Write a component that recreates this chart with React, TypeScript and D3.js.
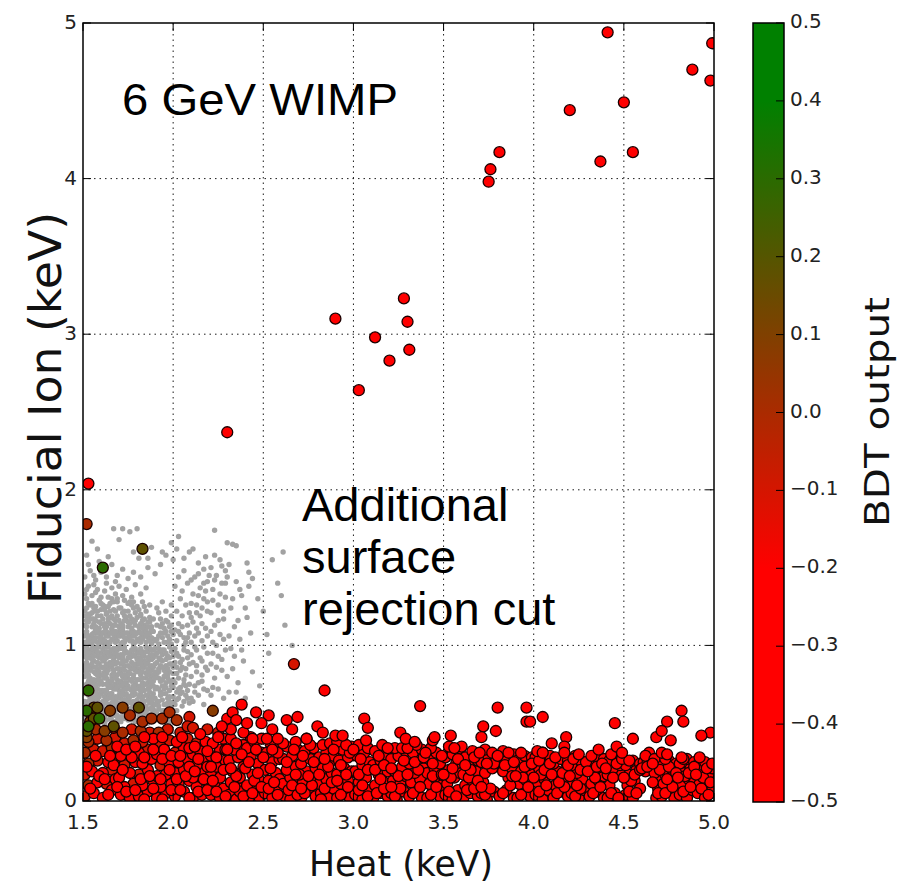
import React from "react";
import * as d3 from "d3";

// ---------- axes / ticks ----------
const heatDomain = [1.5, 5.0];
const ionDomain = [0, 5];
const xTickValues = [1.5, 2.0, 2.5, 3.0, 3.5, 4.0, 4.5, 5.0];
const yTickValues = [0, 1, 2, 3, 4, 5];
const cbarTickValues = [-0.5, -0.4, -0.3, -0.2, -0.1, 0.0, 0.1, 0.2, 0.3, 0.4, 0.5];
const cmapStops = [-0.5, -0.2, 0.4, 0.5];
const cmapColors = ["#ff0000", "#ff0000", "#008000", "#008000"];

// ---------- grey: events removed by the surface rejection cut (heat, ion pairs) ----------
const cutEvents = [
  // ion 0.5-0.6
  1.51,0.53, 1.53,0.58, 1.56,0.51, 1.58,0.56, 1.52,0.55, 1.55,0.59, 1.57,0.53, 1.59,0.58, 1.54,0.52, 1.51,0.59, 1.56,0.56, 1.58,0.50, 1.53,0.54, 1.60,0.54,
  1.61,0.57, 1.63,0.52, 1.65,0.58, 1.67,0.51, 1.69,0.55, 1.62,0.54, 1.64,0.59, 1.66,0.55, 1.68,0.58, 1.70,0.52, 1.62,0.50, 1.65,0.53, 1.67,0.57, 1.69,0.60,
  1.71,0.54, 1.73,0.59, 1.75,0.52, 1.77,0.56, 1.79,0.51, 1.72,0.57, 1.74,0.55, 1.76,0.59, 1.78,0.54, 1.80,0.58, 1.71,0.51, 1.73,0.53, 1.76,0.55, 1.79,0.57,
  1.81,0.55, 1.83,0.51, 1.85,0.57, 1.87,0.53, 1.89,0.59, 1.82,0.58, 1.84,0.54, 1.86,0.50, 1.88,0.56, 1.90,0.52, 1.81,0.60, 1.84,0.57, 1.87,0.55, 1.89,0.54,
  // ion 0.6-0.7
  1.52,0.62, 1.54,0.66, 1.56,0.61, 1.58,0.65, 1.51,0.69, 1.53,0.64, 1.55,0.68, 1.57,0.63, 1.59,0.67, 1.60,0.61, 1.52,0.70, 1.56,0.64, 1.58,0.69, 1.54,0.63,
  1.61,0.64, 1.63,0.68, 1.65,0.62, 1.67,0.66, 1.69,0.61, 1.62,0.67, 1.64,0.62, 1.66,0.69, 1.68,0.64, 1.70,0.68, 1.61,0.61, 1.63,0.65, 1.66,0.63, 1.69,0.66,
  1.71,0.66, 1.73,0.61, 1.75,0.67, 1.77,0.63, 1.79,0.69, 1.72,0.63, 1.74,0.69, 1.76,0.64, 1.78,0.61, 1.80,0.65, 1.71,0.70, 1.74,0.65, 1.77,0.68, 1.79,0.62,
  1.81,0.63, 1.83,0.67, 1.85,0.61, 1.87,0.66, 1.89,0.62, 1.82,0.69, 1.84,0.64, 1.86,0.68, 1.88,0.60, 1.90,0.66, 1.81,0.67, 1.83,0.62, 1.86,0.65, 1.89,0.69,
  // ion 0.7-0.8
  1.51,0.72, 1.53,0.77, 1.55,0.71, 1.57,0.75, 1.59,0.79, 1.52,0.75, 1.54,0.79, 1.56,0.74, 1.58,0.72, 1.60,0.77, 1.51,0.80, 1.55,0.77, 1.57,0.70, 1.53,0.73,
  1.61,0.75, 1.63,0.71, 1.65,0.76, 1.67,0.72, 1.69,0.78, 1.62,0.79, 1.64,0.73, 1.66,0.79, 1.68,0.75, 1.70,0.71, 1.61,0.71, 1.64,0.77, 1.67,0.74, 1.69,0.73,
  1.71,0.77, 1.73,0.73, 1.75,0.79, 1.77,0.71, 1.79,0.76, 1.72,0.71, 1.74,0.76, 1.76,0.72, 1.78,0.79, 1.80,0.74, 1.72,0.80, 1.75,0.74, 1.77,0.77, 1.79,0.72,
  1.81,0.72, 1.83,0.76, 1.85,0.79, 1.87,0.73, 1.89,0.77, 1.82,0.74, 1.84,0.71, 1.86,0.76, 1.88,0.80, 1.90,0.72, 1.81,0.78, 1.84,0.75, 1.87,0.70, 1.89,0.74,
  // ion 0.8-0.9
  1.51,0.84, 1.53,0.81, 1.55,0.86, 1.57,0.82, 1.59,0.88, 1.52,0.89, 1.54,0.84, 1.56,0.90, 1.58,0.85, 1.60,0.81, 1.51,0.87, 1.54,0.87, 1.57,0.86, 1.59,0.83,
  1.61,0.86, 1.63,0.82, 1.65,0.89, 1.67,0.84, 1.69,0.81, 1.62,0.83, 1.64,0.87, 1.66,0.81, 1.68,0.88, 1.70,0.85, 1.61,0.90, 1.63,0.85, 1.66,0.86, 1.69,0.89,
  1.71,0.82, 1.73,0.87, 1.75,0.83, 1.77,0.89, 1.79,0.84, 1.72,0.85, 1.74,0.90, 1.76,0.86, 1.78,0.81, 1.80,0.88, 1.71,0.88, 1.74,0.81, 1.77,0.85, 1.79,0.87,
  1.81,0.85, 1.83,0.89, 1.85,0.82, 1.87,0.86, 1.89,0.81, 1.82,0.81, 1.84,0.86, 1.86,0.89, 1.88,0.84, 1.90,0.88, 1.81,0.89, 1.83,0.83, 1.86,0.84, 1.89,0.86,
  // ion 0.9-1.0
  1.51,0.93, 1.53,0.97, 1.55,0.91, 1.57,0.96, 1.59,0.92, 1.52,0.99, 1.54,0.94, 1.56,0.98, 1.58,0.99, 1.60,0.95, 1.51,0.96, 1.55,0.95, 1.58,0.93, 1.53,0.92,
  1.61,0.97, 1.63,0.92, 1.65,0.96, 1.67,0.91, 1.69,0.97, 1.62,0.94, 1.64,0.99, 1.66,0.94, 1.68,0.93, 1.70,0.99, 1.61,0.91, 1.64,0.95, 1.67,0.98, 1.69,0.94,
  1.71,0.94, 1.73,0.99, 1.75,0.92, 1.77,0.97, 1.79,0.93, 1.72,0.91, 1.74,0.96, 1.76,0.95, 1.78,0.99, 1.80,0.96, 1.71,0.98, 1.73,0.95, 1.77,0.93, 1.79,0.98,
  1.81,0.92, 1.83,0.96, 1.85,0.99, 1.87,0.93, 1.89,0.97, 1.82,0.98, 1.84,0.93, 1.86,0.96, 1.88,0.91, 1.90,0.94, 1.81,0.95, 1.84,0.90, 1.87,0.98, 1.89,0.92,
  // ion 1.0-1.1
  1.51,1.02, 1.53,1.06, 1.55,1.01, 1.57,1.05, 1.59,1.09, 1.52,1.09, 1.54,1.03, 1.56,1.08, 1.58,1.02, 1.60,1.06, 1.51,1.06, 1.55,1.05, 1.57,1.10, 1.53,1.01,
  1.61,1.04, 1.63,1.09, 1.65,1.02, 1.67,1.07, 1.69,1.03, 1.62,1.01, 1.64,1.06, 1.66,1.10, 1.68,1.05, 1.70,1.09, 1.61,1.08, 1.64,1.02, 1.67,1.04, 1.69,1.07,
  1.71,1.06, 1.73,1.02, 1.75,1.08, 1.77,1.03, 1.79,1.07, 1.72,1.09, 1.74,1.04, 1.76,1.06, 1.78,1.01, 1.80,1.04, 1.71,1.01, 1.75,1.05, 1.77,1.09, 1.79,1.02,
  1.81,1.03, 1.83,1.07, 1.85,1.02, 1.87,1.08, 1.89,1.04, 1.82,1.05, 1.84,1.09, 1.86,1.05, 1.88,1.01, 1.81,1.09, 1.85,1.06, 1.87,1.03, 1.89,1.09,
  // ion 1.1-1.2
  1.51,1.13, 1.53,1.18, 1.55,1.12, 1.57,1.16, 1.59,1.11, 1.52,1.16, 1.54,1.20, 1.56,1.14, 1.58,1.19, 1.60,1.14, 1.51,1.19, 1.55,1.17,
  1.61,1.17, 1.63,1.12, 1.65,1.18, 1.67,1.13, 1.69,1.19, 1.62,1.14, 1.64,1.15, 1.66,1.11, 1.68,1.16, 1.70,1.12, 1.63,1.20, 1.67,1.17,
  1.71,1.14, 1.73,1.19, 1.75,1.12, 1.77,1.17, 1.79,1.13, 1.72,1.11, 1.74,1.16, 1.76,1.19, 1.78,1.15, 1.80,1.18, 1.75,1.15,
  1.81,1.12, 1.83,1.16, 1.85,1.11, 1.87,1.18, 1.82,1.19, 1.84,1.13, 1.86,1.15, 1.88,1.12, 1.89,1.17,
  // ion 1.2-1.3
  1.51,1.22, 1.53,1.27, 1.55,1.21, 1.57,1.25, 1.59,1.29, 1.52,1.30, 1.56,1.24, 1.58,1.22, 1.54,1.26, 1.60,1.23,
  1.61,1.26, 1.63,1.21, 1.65,1.27, 1.67,1.23, 1.69,1.28, 1.62,1.23, 1.66,1.30, 1.68,1.22, 1.64,1.25,
  1.71,1.24, 1.73,1.29, 1.75,1.22, 1.77,1.26, 1.79,1.21, 1.72,1.21, 1.76,1.28, 1.78,1.24,
  1.81,1.23, 1.83,1.28, 1.85,1.22, 1.87,1.26, 1.82,1.20,
  // ion 1.3-1.55
  1.51,1.33, 1.53,1.38, 1.55,1.32, 1.58,1.36, 1.60,1.31, 1.52,1.36, 1.56,1.39, 1.62,1.35, 1.64,1.31, 1.66,1.37, 1.68,1.33, 1.70,1.38, 1.63,1.40, 1.72,1.32,
  1.74,1.36, 1.77,1.31, 1.79,1.39, 1.82,1.33, 1.85,1.37, 1.57,1.34, 1.69,1.30,
  1.51,1.44, 1.54,1.48, 1.57,1.42, 1.60,1.47, 1.63,1.44, 1.66,1.52, 1.69,1.45, 1.72,1.49, 1.53,1.52, 1.59,1.54, 1.75,1.43, 1.78,1.47, 1.82,1.44, 1.86,1.50,
  1.90,1.46, 1.62,1.49, 1.68,1.41, 1.56,1.45,
  1.52,1.58, 1.58,1.62, 1.64,1.57, 1.70,1.68, 1.76,1.73, 1.81,1.56, 1.88,1.63, 1.94,1.60, 1.55,1.67, 1.67,1.75, 1.99,1.66, 2.03,1.70, 1.93,1.52, 2.00,1.55,
  // heat 1.9-2.0
  1.91,0.56, 1.93,0.52, 1.95,0.58, 1.97,0.54, 1.99,0.57, 1.92,0.59, 1.96,0.51, 1.98,0.60,
  1.91,0.64, 1.93,0.68, 1.95,0.62, 1.97,0.66, 1.99,0.61, 1.92,0.61, 1.94,0.65, 1.96,0.69, 1.98,0.64, 2.00,0.67, 1.93,0.70, 1.97,0.63,
  1.91,0.73, 1.93,0.77, 1.95,0.72, 1.97,0.79, 1.99,0.74, 1.92,0.79, 1.94,0.74, 1.96,0.76, 1.98,0.71, 2.00,0.78, 1.95,0.80, 1.99,0.77,
  1.91,0.82, 1.93,0.87, 1.95,0.84, 1.97,0.81, 1.99,0.88, 1.92,0.85, 1.94,0.90, 1.96,0.87, 1.98,0.83, 2.00,0.86, 1.91,0.89, 1.97,0.85,
  1.91,0.95, 1.93,0.91, 1.95,0.97, 1.97,0.93, 1.99,0.96, 1.92,0.98, 1.94,0.94, 1.96,0.91, 1.98,0.99, 2.00,0.93, 1.93,0.96,
  1.91,1.04, 1.93,1.08, 1.95,1.02, 1.97,1.06, 1.99,1.01, 1.92,1.01, 1.94,1.05, 1.96,1.09, 1.98,1.04, 2.00,1.07,
  1.91,1.13, 1.93,1.17, 1.95,1.11, 1.97,1.15, 1.99,1.19, 1.94,1.14, 1.98,1.12,
  1.91,1.24, 1.94,1.28, 1.96,1.22, 1.99,1.26, 1.92,1.21,
  // heat 2.0-2.45
  2.01,0.62, 2.03,0.66, 2.05,0.61, 2.07,0.68, 2.02,0.70, 2.06,0.64, 2.09,0.63, 2.04,0.73, 2.01,0.76, 2.03,0.79, 2.06,0.75, 2.08,0.71, 2.02,0.82, 2.05,0.86,
  2.07,0.81, 2.09,0.88, 2.01,0.89, 2.04,0.84, 2.03,0.93, 2.06,0.97, 2.08,0.92, 2.01,0.98, 2.05,0.91, 2.02,1.03, 2.04,1.07, 2.07,1.02, 2.09,1.08, 2.01,1.10,
  2.06,1.05, 2.03,1.14, 2.05,1.19, 2.08,1.13, 2.02,1.22, 2.07,1.26, 2.04,1.30, 2.09,1.21, 2.05,1.35, 2.01,1.38, 2.08,1.40, 2.03,1.44, 2.06,1.48,
  2.11,0.64, 2.14,0.68, 2.17,0.62, 2.12,0.74, 2.16,0.77, 2.19,0.71, 2.13,0.83, 2.18,0.86, 2.11,0.89, 2.15,0.92, 2.19,0.95, 2.12,0.99, 2.16,1.03, 2.14,1.08,
  2.18,1.11, 2.11,1.15, 2.15,1.19, 2.19,1.22, 2.13,1.26, 2.17,1.30, 2.11,1.33, 2.15,1.37, 2.19,1.41, 2.12,1.44, 2.17,1.49, 2.14,1.53, 2.18,1.57, 2.16,0.81,
  2.12,1.06, 2.18,1.35,
  2.21,0.68, 2.25,0.72, 2.28,0.66, 2.23,0.79, 2.27,0.84, 2.21,0.88, 2.25,0.93, 2.29,0.97, 2.22,1.02, 2.26,1.07, 2.23,1.13, 2.28,1.17, 2.21,1.21, 2.25,1.26,
  2.29,1.31, 2.22,1.36, 2.27,1.40, 2.24,1.45, 2.21,1.50, 2.26,1.55, 2.29,1.48, 2.23,1.58,
  2.31,0.70, 2.36,0.76, 2.33,0.85, 2.39,0.90, 2.32,0.98, 2.37,1.04, 2.34,1.12, 2.41,1.18, 2.32,1.24, 2.38,1.32, 2.35,1.41, 2.42,1.47, 2.31,1.52, 2.44,0.83,
  2.40,0.66, 2.43,1.08,
  2.02,0.58, 2.05,0.70, 2.07,0.74, 2.10,0.66, 2.12,0.70, 2.14,0.76, 2.17,0.72, 2.10,0.80, 2.13,0.87, 2.16,0.90, 2.19,0.84, 2.10,0.94, 2.13,0.97, 2.17,0.99,
  2.10,1.02, 2.13,1.11, 2.16,1.14, 2.19,1.06, 2.10,1.18, 2.13,1.21, 2.16,1.24, 2.19,1.28, 2.10,1.27, 2.14,1.32, 2.17,1.40, 2.10,1.42, 2.14,1.46, 2.20,1.45,
  2.22,0.73, 2.24,0.86, 2.27,0.91, 2.22,0.95, 2.24,1.00, 2.28,1.04, 2.21,1.09, 2.25,1.16, 2.28,1.22, 2.22,1.29, 2.26,1.33, 2.29,1.40, 2.23,1.42, 2.27,1.51,
  2.30,0.80, 2.34,0.93, 2.31,1.06, 2.36,1.16, 2.33,1.30, 2.37,1.36, 2.30,1.44, 2.35,0.70, 2.38,0.97, 2.40,1.24, 2.42,1.38, 2.06,1.56, 2.09,1.60, 2.11,1.62,
  2.02,1.62, 1.96,1.58, 1.86,1.56, 1.78,1.60,
  // outer halo
  2.30,1.66, 2.33,1.65, 2.35,1.64, 2.23,1.74, 2.41,1.53, 2.44,1.43, 2.58,1.40, 2.60,1.32, 2.61,1.60, 2.62,1.13, 2.66,1.00, 2.50,1.22, 2.53,0.95, 2.48,0.74,
  2.55,1.55, 1.72,1.75, 1.80,1.75, 2.47,1.30, 2.52,1.07,
  // second layer of the saturated core
  1.52,0.51, 1.54,0.57, 1.55,0.54, 1.57,0.59, 1.59,0.52, 1.60,0.57, 1.52,0.58, 1.57,0.51,
  1.62,0.52, 1.64,0.56, 1.66,0.52, 1.68,0.55, 1.70,0.59, 1.61,0.59, 1.66,0.60, 1.69,0.52,
  1.72,0.53, 1.74,0.58, 1.75,0.55, 1.77,0.52, 1.78,0.57, 1.80,0.52, 1.71,0.58, 1.77,0.60,
  1.82,0.52, 1.83,0.57, 1.85,0.54, 1.86,0.59, 1.88,0.52, 1.90,0.57, 1.82,0.55, 1.88,0.59,
  1.51,0.64, 1.53,0.61, 1.55,0.65, 1.57,0.67, 1.59,0.63, 1.60,0.69, 1.53,0.68, 1.57,0.60,
  1.62,0.63, 1.64,0.66, 1.65,0.69, 1.67,0.62, 1.68,0.67, 1.70,0.63, 1.62,0.70, 1.66,0.66,
  1.72,0.65, 1.73,0.68, 1.75,0.63, 1.76,0.67, 1.78,0.64, 1.80,0.61, 1.72,0.69, 1.78,0.68,
  1.82,0.61, 1.83,0.65, 1.85,0.68, 1.87,0.63, 1.88,0.67, 1.90,0.62, 1.84,0.61, 1.88,0.64,
  1.52,0.72, 1.54,0.76, 1.56,0.78, 1.57,0.73, 1.59,0.75, 1.60,0.71, 1.53,0.80, 1.58,0.78,
  1.62,0.71, 1.63,0.75, 1.65,0.73, 1.66,0.77, 1.68,0.72, 1.70,0.76, 1.63,0.79, 1.68,0.79,
  1.71,0.74, 1.73,0.76, 1.74,0.72, 1.76,0.78, 1.78,0.74, 1.80,0.78, 1.73,0.79, 1.78,0.71,
  1.82,0.71, 1.83,0.73, 1.85,0.75, 1.86,0.72, 1.88,0.76, 1.90,0.79, 1.83,0.79, 1.87,0.78,
  1.52,0.82, 1.53,0.86, 1.55,0.88, 1.56,0.83, 1.58,0.81, 1.60,0.86, 1.52,0.85, 1.58,0.89,
  1.62,0.81, 1.63,0.88, 1.64,0.84, 1.66,0.88, 1.67,0.82, 1.69,0.85, 1.62,0.86, 1.70,0.82,
  1.72,0.81, 1.73,0.84, 1.75,0.87, 1.76,0.82, 1.78,0.85, 1.80,0.83, 1.72,0.89, 1.78,0.88,
  1.82,0.83, 1.83,0.86, 1.85,0.88, 1.86,0.81, 1.88,0.87, 1.90,0.83, 1.82,0.88, 1.87,0.83,
  1.52,0.92, 1.53,0.95, 1.55,0.98, 1.56,0.93, 1.58,0.96, 1.60,0.92, 1.51,0.99, 1.59,0.99,
  1.62,0.91, 1.63,0.96, 1.65,0.93, 1.66,0.97, 1.68,0.95, 1.70,0.92, 1.62,0.99, 1.68,0.98,
  1.72,0.93, 1.73,0.97, 1.75,0.95, 1.76,0.92, 1.78,0.94, 1.80,0.91, 1.72,0.99, 1.78,0.97,
  1.82,0.91, 1.83,0.94, 1.85,0.96, 1.86,0.92, 1.88,0.97, 1.90,0.98, 1.82,0.96, 1.88,0.94,
  1.52,1.02, 1.53,1.04, 1.55,1.07, 1.56,1.03, 1.58,1.08, 1.60,1.02, 1.52,1.07, 1.59,1.05,
  1.62,1.03, 1.63,1.06, 1.65,1.08, 1.66,1.04, 1.68,1.02, 1.70,1.06, 1.62,1.09, 1.68,1.09,
  1.72,1.02, 1.73,1.05, 1.74,1.08, 1.76,1.03, 1.78,1.06, 1.80,1.08, 1.72,1.07, 1.78,1.09,
  1.82,1.02, 1.83,1.04, 1.85,1.09, 1.86,1.07, 1.88,1.05, 1.90,1.03, 1.82,1.08, 1.88,1.10,
  1.52,1.12, 1.53,1.15, 1.56,1.17, 1.57,1.12, 1.59,1.15, 1.60,1.19, 1.53,1.20,
  1.62,1.12, 1.64,1.17, 1.65,1.14, 1.66,1.19, 1.68,1.13, 1.70,1.16,
  1.72,1.13, 1.74,1.18, 1.76,1.14, 1.77,1.11, 1.79,1.16, 1.73,1.16,
  1.82,1.14, 1.84,1.17, 1.86,1.12, 1.87,1.15, 1.83,1.11,
  1.52,1.24, 1.55,1.27, 1.57,1.22, 1.60,1.27, 1.62,1.25, 1.65,1.22, 1.67,1.28, 1.70,1.24, 1.73,1.22, 1.75,1.27, 1.78,1.28, 1.80,1.25, 1.84,1.25,
  1.92,0.55, 1.94,0.58, 1.96,0.54, 1.98,0.51, 2.00,0.58, 1.92,0.64, 1.94,0.69, 1.96,0.62, 1.98,0.67, 2.00,0.63, 1.92,0.72, 1.94,0.78, 1.96,0.73,
  1.98,0.77, 2.00,0.73, 1.92,0.83, 1.94,0.86, 1.96,0.82, 1.98,0.88, 2.00,0.82, 1.92,0.92, 1.94,0.97, 1.96,0.95, 1.98,0.92, 2.00,0.97, 1.92,1.06,
  1.95,1.08, 1.97,1.02, 1.99,1.09, 1.93,1.12, 1.96,1.16, 1.99,1.13,
  2.02,0.65, 2.04,0.69, 2.08,0.66, 2.03,0.72, 2.06,0.78, 2.09,0.75, 2.02,0.86, 2.07,0.85, 2.04,0.89, 2.08,0.96, 2.02,0.95, 2.06,1.00, 2.03,1.09,
  2.08,1.05, 2.05,1.12,
];

// ---------- events passing the cut, grouped by BDT output ----------
const bdtRedBand = -0.4;
const redBandEvents = [
  1.56,0.05, 1.58,0.12, 1.55,0.19,
  1.61,0.02, 1.66,0.07, 1.68,0.14, 1.61,0.18, 1.64,0.25,
  1.71,0.04, 1.76,0.02, 1.73,0.09, 1.70,0.15, 1.76,0.18, 1.79,0.25, 1.71,0.29,
  1.81,0.03, 1.86,0.06, 1.83,0.10, 1.89,0.13, 1.86,0.20, 1.83,0.24, 1.88,0.27, 1.81,0.31, 1.89,0.40,
  1.91,0.02, 1.96,0.05, 1.93,0.09, 1.99,0.11, 1.91,0.16, 1.96,0.17, 1.98,0.24, 1.91,0.30, 1.95,0.33,
  2.01,0.03, 2.06,0.06, 2.03,0.11, 2.09,0.13, 2.01,0.18, 2.06,0.20, 2.03,0.25, 2.08,0.27, 2.06,0.34, 2.02,0.38,
  2.11,0.02, 2.16,0.04, 2.13,0.09, 2.19,0.12, 2.11,0.15, 2.16,0.19, 2.13,0.23, 2.18,0.26, 2.11,0.30, 2.15,0.32, 2.18,0.38, 2.15,0.43,
  2.21,0.04, 2.26,0.02, 2.23,0.10, 2.28,0.08, 2.21,0.17, 2.26,0.15, 2.24,0.22, 2.29,0.26, 2.21,0.29, 2.26,0.33, 2.22,0.37, 2.28,0.40,
  2.31,0.04, 2.35,0.01, 2.38,0.08, 2.32,0.12, 2.37,0.15, 2.33,0.19, 2.39,0.22, 2.31,0.26, 2.36,0.28, 2.34,0.33, 2.39,0.36, 2.32,0.40, 2.37,0.06,
  2.42,0.02, 2.46,0.07, 2.41,0.10, 2.48,0.13, 2.44,0.17, 2.40,0.21, 2.47,0.24, 2.43,0.29, 2.49,0.31, 2.41,0.34, 2.45,0.38, 2.48,0.02, 2.45,0.13,
  2.51,0.05, 2.55,0.02, 2.58,0.09, 2.53,0.13, 2.57,0.18, 2.51,0.20, 2.55,0.25, 2.59,0.27, 2.52,0.31, 2.57,0.34, 2.54,0.37, 2.59,0.14, 2.50,0.28,
  2.62,0.03, 2.67,0.06, 2.61,0.11, 2.65,0.15, 2.69,0.12, 2.63,0.20, 2.68,0.22, 2.61,0.27, 2.66,0.29, 2.63,0.35, 2.69,0.33, 2.65,0.01, 2.68,0.38,
  2.71,0.02, 2.75,0.07, 2.79,0.03, 2.72,0.12, 2.77,0.14, 2.74,0.19, 2.79,0.21, 2.71,0.24, 2.76,0.27, 2.73,0.32, 2.78,0.34, 2.70,0.17, 2.74,0.40,
  2.82,0.05, 2.86,0.02, 2.89,0.08, 2.81,0.11, 2.85,0.14, 2.88,0.18, 2.83,0.21, 2.87,0.25, 2.81,0.28, 2.85,0.31, 2.89,0.29, 2.83,0.36, 2.87,0.37,
  2.91,0.02, 2.95,0.06, 2.98,0.02, 2.93,0.11, 2.97,0.13, 2.91,0.17, 2.95,0.21, 2.99,0.19, 2.92,0.26, 2.97,0.28, 2.94,0.33, 2.99,0.35, 2.91,0.38,
  3.01,0.04, 3.05,0.01, 3.08,0.07, 3.03,0.12, 3.07,0.15, 3.01,0.19, 3.05,0.23, 3.09,0.25, 3.02,0.29, 3.06,0.31, 3.03,0.36, 3.08,0.34,
  3.11,0.02, 3.15,0.05, 3.19,0.03, 3.12,0.10, 3.17,0.12, 3.14,0.17, 3.19,0.19, 3.11,0.23, 3.15,0.26, 3.18,0.30, 3.12,0.32, 3.16,0.36,
  3.21,0.05, 3.24,0.01, 3.28,0.06, 3.22,0.13, 3.26,0.11, 3.29,0.16, 3.23,0.19, 3.27,0.22, 3.21,0.27, 3.25,0.29, 3.29,0.32, 3.23,0.34,
  3.31,0.03, 3.35,0.07, 3.38,0.02, 3.32,0.12, 3.37,0.14, 3.34,0.18, 3.39,0.21, 3.31,0.24, 3.36,0.27, 3.33,0.31, 3.38,0.33, 3.35,0.36,
  3.41,0.02, 3.44,0.06, 3.48,0.03, 3.42,0.11, 3.46,0.14, 3.49,0.10, 3.41,0.18, 3.45,0.21, 3.48,0.24, 3.42,0.27, 3.46,0.31, 3.43,0.34,
  3.51,0.04, 3.55,0.01, 3.58,0.07, 3.52,0.11, 3.56,0.15, 3.59,0.18, 3.53,0.20, 3.57,0.24, 3.51,0.28, 3.55,0.30, 3.59,0.31, 3.53,0.35,
  3.61,0.02, 3.65,0.05, 3.69,0.03, 3.62,0.10, 3.66,0.13, 3.61,0.17, 3.68,0.19, 3.64,0.23, 3.69,0.26, 3.62,0.28, 3.66,0.32, 3.60,0.35,
  3.71,0.05, 3.74,0.01, 3.78,0.06, 3.72,0.12, 3.73,0.18, 3.77,0.21, 3.71,0.25, 3.75,0.28, 3.79,0.27, 3.73,0.33,
  3.81,0.03, 3.85,0.07, 3.89,0.02, 3.86,0.15, 3.83,0.19, 3.88,0.21, 3.81,0.25, 3.85,0.27, 3.89,0.30, 3.83,0.32,
  3.91,0.02, 3.94,0.06, 3.98,0.03, 3.92,0.11, 3.96,0.13, 3.99,0.17, 3.93,0.19, 3.97,0.23, 3.91,0.26, 3.95,0.29, 3.99,0.28,
  4.01,0.04, 4.05,0.01, 4.08,0.07, 4.02,0.12, 4.06,0.14, 4.09,0.18, 4.03,0.21, 4.07,0.24, 4.01,0.28, 4.05,0.31, 4.09,0.29,
  4.11,0.02, 4.15,0.06, 4.19,0.03, 4.12,0.10, 4.16,0.14, 4.13,0.19, 4.18,0.21, 4.11,0.24, 4.15,0.27, 4.19,0.26,
  4.21,0.05, 4.25,0.02, 4.28,0.07, 4.22,0.12, 4.27,0.14, 4.24,0.18, 4.29,0.20, 4.21,0.23, 4.26,0.26, 4.23,0.29,
  4.31,0.03, 4.35,0.06, 4.39,0.02, 4.32,0.11, 4.36,0.13, 4.39,0.16, 4.33,0.19, 4.37,0.22, 4.31,0.25, 4.35,0.28, 4.39,0.27,
  4.41,0.02, 4.45,0.05, 4.42,0.10, 4.48,0.19, 4.41,0.17, 4.44,0.21, 4.48,0.23, 4.42,0.26, 4.46,0.28, 4.49,0.02,
  4.51,0.04, 4.55,0.02, 4.52,0.10, 4.56,0.13, 4.59,0.08, 4.53,0.17, 4.57,0.20, 4.51,0.23, 4.55,0.26, 4.59,0.24,
  4.62,0.19, 4.66,0.22, 4.68,0.15, 4.61,0.25, 4.65,0.28, 4.69,0.08, 4.68,0.02, 4.64,0.31,
  4.71,0.03, 4.75,0.06, 4.78,0.02, 4.72,0.11, 4.76,0.13, 4.79,0.09, 4.73,0.17, 4.77,0.20, 4.71,0.24, 4.75,0.26, 4.79,0.24,
  4.81,0.04, 4.85,0.02, 4.88,0.07, 4.82,0.11, 4.86,0.14, 4.89,0.12, 4.83,0.18, 4.87,0.21, 4.81,0.24, 4.85,0.27, 4.89,0.25,
  4.91,0.05, 4.95,0.02, 4.92,0.11, 4.96,0.14, 4.99,0.07, 4.93,0.18, 4.97,0.17, 4.91,0.23, 4.95,0.25, 4.99,0.21,
  // second layer of the pile-up
  1.54,0.08, 1.59,0.16, 1.52,0.22, 1.57,0.29,
  1.64,0.04, 1.69,0.09, 1.62,0.14, 1.67,0.23, 1.65,0.29, 1.69,0.35,
  1.74,0.06, 1.79,0.07, 1.72,0.20, 1.77,0.28, 1.74,0.33, 1.79,0.35,
  1.84,0.01, 1.89,0.08, 1.82,0.14, 1.87,0.16, 1.84,0.28, 1.89,0.33, 1.84,0.41,
  1.94,0.01, 1.99,0.07, 1.93,0.14, 1.98,0.20, 1.94,0.27, 1.99,0.29, 1.94,0.41,
  2.04,0.07, 2.09,0.02, 2.02,0.14, 2.07,0.16, 2.04,0.29, 2.09,0.34, 2.05,0.41, 2.09,0.22,
  2.14,0.06, 2.19,0.07, 2.12,0.19, 2.17,0.14, 2.14,0.27, 2.19,0.32, 2.12,0.35, 2.19,0.22,
  2.24,0.06, 2.29,0.03, 2.22,0.13, 2.28,0.20, 2.24,0.28, 2.29,0.33, 2.25,0.41, 2.21,0.22,
  2.34,0.09, 2.39,0.03, 2.35,0.16, 2.32,0.21, 2.38,0.30, 2.35,0.37, 2.30,0.33,
  2.44,0.05, 2.49,0.09, 2.47,0.18, 2.42,0.25, 2.46,0.33, 2.49,0.40, 2.43,0.41,
  2.53,0.08, 2.58,0.04, 2.56,0.12, 2.54,0.21, 2.58,0.31, 2.55,0.33, 2.52,0.40,
  2.64,0.07, 2.69,0.04, 2.68,0.17, 2.63,0.25, 2.67,0.33, 2.61,0.37, 2.66,0.10,
  2.73,0.05, 2.77,0.10, 2.75,0.16, 2.72,0.29, 2.78,0.25, 2.76,0.36, 2.71,0.08,
  2.84,0.08, 2.88,0.12, 2.81,0.17, 2.86,0.22, 2.84,0.27, 2.89,0.33, 2.82,0.01,
  2.93,0.04, 2.97,0.09, 2.91,0.13, 2.96,0.17, 2.93,0.23, 2.98,0.31, 2.96,0.36,
  3.03,0.07, 3.08,0.03, 3.05,0.10, 3.03,0.17, 3.08,0.20, 3.04,0.27, 3.00,0.33,
  3.13,0.05, 3.17,0.08, 3.15,0.14, 3.12,0.20, 3.17,0.23, 3.14,0.29, 3.19,0.34,
  3.23,0.03, 3.26,0.08, 3.21,0.09, 3.25,0.16, 3.21,0.21, 3.28,0.26, 3.27,0.34,
  3.33,0.05, 3.37,0.09, 3.30,0.17, 3.36,0.20, 3.34,0.25, 3.39,0.28, 3.30,0.34,
  3.43,0.04, 3.46,0.09, 3.44,0.16, 3.49,0.17, 3.44,0.24, 3.49,0.29, 3.40,0.31,
  3.53,0.06, 3.57,0.03, 3.54,0.15, 3.50,0.17, 3.55,0.21, 3.58,0.27, 3.56,0.34,
  3.63,0.07, 3.67,0.08, 3.64,0.15, 3.69,0.13, 3.65,0.20, 3.62,0.23, 3.67,0.28,
  3.73,0.04, 3.76,0.08, 3.71,0.09, 3.78,0.24, 3.74,0.24, 3.70,0.31, 3.77,0.31,
  3.83,0.05, 3.87,0.10, 3.84,0.23, 3.89,0.25, 3.86,0.31, 3.80,0.29, 3.88,0.16,
  3.93,0.04, 3.97,0.09, 3.94,0.15, 3.90,0.16, 3.95,0.22, 3.99,0.24, 3.93,0.31,
  4.03,0.06, 4.07,0.10, 4.04,0.17, 4.00,0.15, 4.06,0.20, 4.09,0.24, 4.03,0.26,
  4.13,0.05, 4.17,0.09, 4.14,0.12, 4.10,0.17, 4.16,0.18, 4.19,0.23, 4.12,0.28,
  4.23,0.03, 4.26,0.08, 4.24,0.10, 4.20,0.16, 4.26,0.20, 4.29,0.25, 4.22,0.27,
  4.33,0.05, 4.37,0.09, 4.34,0.15, 4.30,0.19, 4.35,0.22, 4.38,0.24, 4.32,0.29,
  4.43,0.05, 4.47,0.02, 4.44,0.15, 4.40,0.21, 4.46,0.24, 4.49,0.27, 4.43,0.30,
  4.53,0.06, 4.57,0.05, 4.54,0.13, 4.50,0.15, 4.56,0.17, 4.59,0.20, 4.53,0.26,
  4.63,0.24, 4.67,0.18, 4.60,0.21, 4.66,0.12, 4.69,0.05, 4.62,0.29, 4.67,0.27,
  4.73,0.05, 4.77,0.09, 4.74,0.14, 4.70,0.20, 4.75,0.22, 4.79,0.18, 4.73,0.27,
  4.83,0.06, 4.87,0.09, 4.84,0.16, 4.80,0.15, 4.86,0.18, 4.89,0.22, 4.83,0.27,
  4.93,0.08, 4.97,0.04, 4.94,0.15, 4.90,0.17, 4.96,0.21, 4.99,0.24, 4.92,0.28, 4.98,0.12,
];

const bdtRedSparse = -0.35;
const redSparseEvents = [
  4.41,4.94, 4.99,4.87, 4.88,4.70, 4.98,4.63, 4.20,4.44, 4.50,4.49, 4.37,4.11, 4.55,4.17, 3.81,4.17, 3.76,4.06, 3.75,3.98,
  3.28,3.23, 2.90,3.10, 3.30,3.08, 3.12,2.98, 3.31,2.90, 3.20,2.83, 3.03,2.64, 2.30,2.37, 1.53,2.04,
  2.84,0.71, 3.37,0.61, 3.80,0.60, 3.96,0.60, 3.96,0.51, 3.98,0.51, 4.05,0.54, 4.45,0.50, 4.74,0.51, 4.82,0.58, 4.83,0.51, 4.98,0.44, 4.93,0.42,
  2.38,0.62, 2.30,0.53, 2.33,0.57, 2.35,0.52, 2.46,0.57, 2.53,0.55, 2.49,0.50, 2.63,0.52, 2.66,0.46, 2.39,0.44, 2.44,0.40, 2.55,0.46, 2.58,0.40,
  2.69,0.54, 2.80,0.48, 2.83,0.44, 3.06,0.53, 3.08,0.47, 3.07,0.39, 3.26,0.44, 3.29,0.40, 3.34,0.38, 3.44,0.39, 3.45,0.41, 3.54,0.42, 3.72,0.48,
  3.79,0.45, 3.71,0.41, 2.74,0.40, 2.90,0.42, 2.94,0.42, 4.18,0.41, 4.10,0.37, 4.17,0.35, 4.17,0.31, 4.02,0.32, 4.05,0.31, 4.25,0.30, 4.36,0.33,
  4.46,0.35, 4.49,0.31, 4.55,0.40, 4.68,0.41, 4.71,0.45, 4.76,0.39, 4.63,0.22, 4.66,0.24, 4.71,0.31, 4.74,0.30, 4.82,0.28, 2.32,0.46, 2.27,0.48, 2.41,0.50,
];

const bdtDarkRed = -0.1;
const darkRedEvents = [
  1.51,0.03, 1.51,0.17, 1.58,0.26, 1.56,0.33, 1.58,0.40,
  1.63,0.11, 1.66,0.20, 1.68,0.27, 1.61,0.32, 1.68,0.41, 1.67,0.47,
  1.78,0.11, 1.73,0.23, 1.76,0.32, 1.73,0.37, 1.77,0.46,
  1.81,0.17, 1.86,0.33, 1.83,0.38, 1.87,0.44,
  1.93,0.23, 1.93,0.37, 1.98,0.39, 1.97,0.46,
  2.01,0.31, 2.08,0.40, 2.04,0.44, 2.13,0.37, 2.25,0.44,
  2.09,0.54, 2.08,0.48, 2.67,0.88, 2.11,0.47, 2.19,0.46,
];

const bdtBrown = 0.0;
const brownEvents = [
  1.53,0.10, 1.53,0.24, 1.51,0.31, 1.53,0.38, 1.57,0.46, 1.66,0.34, 1.63,0.39, 1.78,0.39, 1.72,0.44, 1.82,0.45, 1.92,0.44,
  1.83,0.51, 1.76,0.55, 1.88,0.53, 1.94,0.53, 1.98,0.57, 2.02,0.52, 1.52,1.78,
];

const bdtAmber = 0.08;
const amberEvents = [1.62,0.45, 1.65,0.58, 1.72,0.60, 1.54,0.51, 2.22,0.58, 1.52,0.41];

const bdtOlive = 0.18;
const oliveEvents = [1.52,0.45, 1.56,0.60, 1.58,0.60, 1.81,0.60, 1.56,0.53, 1.67,0.48, 1.83,1.62];

const bdtGreen = 0.3;
const greenEvents = [1.61,1.50, 1.53,0.71, 1.52,0.58, 1.59,0.53, 1.53,0.48];

// ---------- helpers ----------
const toPairs = (flat: number[]) =>
  d3.range(0, flat.length - 1, 2).map((i) => [flat[i], flat[i + 1]] as [number, number]);

const layers = [
  { bdt: bdtDarkRed, pts: darkRedEvents },
  { bdt: bdtBrown, pts: brownEvents },
  { bdt: bdtRedBand, pts: redBandEvents },
  { bdt: bdtRedSparse, pts: redSparseEvents },
  { bdt: bdtAmber, pts: amberEvents },
  { bdt: bdtOlive, pts: oliveEvents },
  { bdt: bdtGreen, pts: greenEvents },
];

export default function App() {
  const W = 912;
  const H = 890;
  const plot = { left: 83, right: 714, top: 23, bottom: 801 };
  const x = d3.scaleLinear().domain(heatDomain).range([plot.left, plot.right]);
  const y = d3.scaleLinear().domain(ionDomain).range([plot.bottom, plot.top]);
  const cmap = d3
    .scaleLinear<string>()
    .domain(cmapStops)
    .range(cmapColors)
    .interpolate(d3.interpolateRgb)
    .clamp(true);
  const cb = { left: 753, right: 784, top: 23, bottom: 802 };
  const cy = d3.scaleLinear().domain([-0.5, 0.5]).range([cb.bottom, cb.top]);
  const gradOffset = d3.scaleLinear().domain([-0.5, 0.5]).range([0, 100]);
  const fmtX = d3.format(".1f");
  const fmtCb = d3.format(".1f");
  const grey = toPairs(cutEvents);
  const tickFont = "DejaVu Sans, sans-serif";
  const annFont = "Liberation Sans, Arial, sans-serif";

  return (
    <svg
      width={W}
      height={H}
      viewBox={`0 0 ${W} ${H}`}
      style={{ position: "absolute", left: 0, top: 0, background: "#fff" }}
    >
      <defs>
        <clipPath id="plotClip">
          <rect x={plot.left} y={plot.top} width={plot.right - plot.left} height={plot.bottom - plot.top} />
        </clipPath>
        <linearGradient id="cbGrad" x1="0" y1="1" x2="0" y2="0">
          {cmapStops.map((v, i) => (
            <stop key={i} offset={`${gradOffset(v)}%`} stopColor={cmapColors[i]} />
          ))}
        </linearGradient>
      </defs>
      <rect x={0} y={0} width={W} height={H} fill="#fff" />

      {/* grey rejected events */}
      <g clipPath="url(#plotClip)">
        {grey.map(([h, i], k) => (
          <circle key={k} cx={x(h)} cy={y(i)} r={2.7} fill="#a2a2a2" />
        ))}
      </g>

      {/* grid */}
      <g stroke="#000" strokeWidth={0.9} strokeDasharray="1.5,4">
        {xTickValues.slice(1, -1).map((t) => (
          <line key={`gx${t}`} x1={x(t)} x2={x(t)} y1={plot.top} y2={plot.bottom} />
        ))}
        {yTickValues.slice(1, -1).map((t) => (
          <line key={`gy${t}`} x1={plot.left} x2={plot.right} y1={y(t)} y2={y(t)} />
        ))}
      </g>

      {/* coloured events */}
      <g clipPath="url(#plotClip)">
        {layers.map((layer, li) => (
          <g key={li} fill={cmap(layer.bdt)} stroke="#1a0000" strokeWidth={1.3}>
            {toPairs(layer.pts).map(([h, i], k) => (
              <circle key={k} cx={x(h)} cy={y(i)} r={5.5} />
            ))}
          </g>
        ))}
      </g>

      {/* frame */}
      <rect
        x={plot.left}
        y={plot.top}
        width={plot.right - plot.left}
        height={plot.bottom - plot.top}
        fill="none"
        stroke="#000"
        strokeWidth={1.5}
      />
      <g stroke="#000" strokeWidth={1}>
        {xTickValues.map((t) => (
          <g key={`tx${t}`}>
            <line x1={x(t)} x2={x(t)} y1={plot.bottom} y2={plot.bottom - 8} />
            <line x1={x(t)} x2={x(t)} y1={plot.top} y2={plot.top + 8} />
          </g>
        ))}
        {yTickValues.map((t) => (
          <g key={`ty${t}`}>
            <line x1={plot.left} x2={plot.left + 8} y1={y(t)} y2={y(t)} />
            <line x1={plot.right} x2={plot.right - 8} y1={y(t)} y2={y(t)} />
          </g>
        ))}
      </g>

      {/* tick labels */}
      <g fontFamily={tickFont} fontSize={20} fill="#222">
        {xTickValues.map((t) => (
          <text key={`lx${t}`} x={x(t)} y={829} textAnchor="middle">
            {fmtX(t)}
          </text>
        ))}
        {yTickValues.map((t) => (
          <text key={`ly${t}`} x={77} y={y(t) + 6} textAnchor="end">
            {t}
          </text>
        ))}
      </g>

      {/* axis labels */}
      <text
        x={401}
        y={876}
        textAnchor="middle"
        fontFamily={tickFont}
        fontSize={36}
        fill="#111"
        textLength={184}
        lengthAdjust="spacingAndGlyphs"
      >
        Heat (keV)
      </text>
      <text
        transform="translate(61,408) rotate(-90)"
        textAnchor="middle"
        fontFamily={tickFont}
        fontSize={44}
        fill="#111"
        textLength={392}
        lengthAdjust="spacingAndGlyphs"
      >
        Fiducial Ion (keV)
      </text>

      {/* annotations */}
      <text x={122} y={115} fontFamily={annFont} fontSize={45} fill="#000" textLength={276} lengthAdjust="spacingAndGlyphs">
        6 GeV WIMP
      </text>
      <g fontFamily={annFont} fontSize={47} fill="#000">
        <text x={302} y={521}>Additional</text>
        <text x={302} y={573}>surface</text>
        <text x={302} y={625}>rejection cut</text>
      </g>

      {/* colourbar */}
      <rect x={cb.left} y={cb.top} width={cb.right - cb.left} height={cb.bottom - cb.top} fill="url(#cbGrad)" stroke="#000" strokeWidth={1.5} />
      <g stroke="#000" strokeWidth={1}>
        {cbarTickValues.map((t) => (
          <line key={`cbt${t}`} x1={cb.right - 8} x2={cb.right} y1={cy(t)} y2={cy(t)} />
        ))}
      </g>
      <g fontFamily={tickFont} fontSize={20} fill="#222">
        {cbarTickValues.map((t) => (
          <text key={`cbl${t}`} x={790} y={cy(t) + 5} textAnchor="start">
            {fmtCb(t)}
          </text>
        ))}
      </g>
      <text
        transform="translate(889,412) rotate(-90)"
        textAnchor="middle"
        fontFamily={tickFont}
        fontSize={34}
        fill="#111"
        textLength={230}
        lengthAdjust="spacingAndGlyphs"
      >
        BDT output
      </text>
    </svg>
  );
}
